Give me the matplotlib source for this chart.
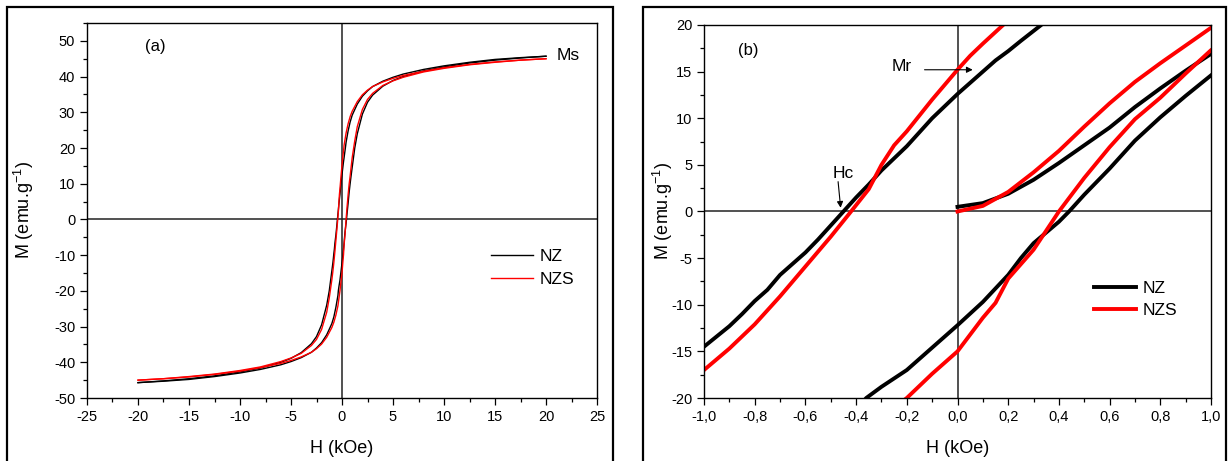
import matplotlib
matplotlib.use("Agg")
import matplotlib.pyplot as plt
from matplotlib.patches import Rectangle
from matplotlib.ticker import MultipleLocator, FuncFormatter

plt.rcParams['font.family'] = ['Liberation Sans', 'DejaVu Sans']
plt.rcParams['axes.unicode_minus'] = False
plt.rcParams['mathtext.fontset'] = 'custom'
plt.rcParams['mathtext.rm'] = 'Liberation Sans'
plt.rcParams['mathtext.it'] = 'Liberation Sans:italic'
plt.rcParams['mathtext.default'] = 'regular'

# ---------------- data ----------------
# NZ descending branch (H from +20 to -20)
nz_desc_H = [20, 17.5, 15, 12.5, 10, 8, 6, 5, 4, 3, 2.5, 2, 1.5, 1.0, 0.8, 0.6, 0.4,
             0.33, 0.25, 0.2, 0.15, 0.1, 0.0, -0.1, -0.2, -0.3, -0.35, -0.4, -0.45, -0.5,
             -0.55, -0.6, -0.7, -0.75, -0.8, -0.85, -0.9, -1.0, -1.25, -1.5, -2, -2.5,
             -3, -4, -5, -6, -8, -10, -12.5, -15, -17.5, -20]
nz_desc_M = [45.7, 45.3, 44.8, 44.0, 43.0, 42.0, 40.7, 39.8, 38.7, 37.2, 36.0, 34.5, 32.3,
             29.2, 27.3, 24.8, 21.6, 20.0, 18.3, 17.2, 16.2, 15.0, 12.6, 10.0, 7.0, 4.4,
             2.9, 1.5, 0.0, -1.5, -3.0, -4.4, -6.8, -8.4, -9.6, -11.0, -12.3, -14.5,
             -20.0, -24.0, -29.5, -32.8, -34.8, -37.3, -38.9, -40.0, -41.6, -42.7,
             -43.8, -44.6, -45.2, -45.7]
# NZ ascending branch (H from -20 to +20)
nz_asc_H = [-20, -17.5, -15, -12.5, -10, -8, -6, -5, -4, -3, -2.5, -2, -1.5, -1.0, -0.8,
            -0.6, -0.4, -0.36, -0.3, -0.2, -0.1, 0.0, 0.1, 0.2, 0.25, 0.3, 0.4, 0.44, 0.5,
            0.6, 0.65, 0.7, 0.8, 0.9, 1.0, 1.25, 1.5, 2, 2.5, 3, 4, 5, 6, 8, 10, 12.5,
            15, 17.5, 20]
nz_asc_M = [-45.7, -45.3, -44.8, -44.0, -43.0, -42.0, -40.7, -39.8, -38.7, -37.2, -36.0,
            -34.5, -32.3, -29.2, -27.3, -24.6, -21.3, -20.0, -18.8, -17.0, -14.6, -12.2,
            -9.7, -6.8, -5.0, -3.4, -1.1, 0.0, 1.8, 4.6, 6.1, 7.6, 10.1, 12.4, 14.6,
            20.0, 24.0, 29.5, 32.8, 34.8, 37.3, 38.9, 40.0, 41.6, 42.7, 43.8, 44.6,
            45.2, 45.7]
# NZ initial magnetisation curve
nz_init_H = [0.0, 0.1, 0.2, 0.3, 0.4, 0.5, 0.6, 0.7, 0.8, 0.9, 1.0]
nz_init_M = [0.5, 0.9, 1.9, 3.4, 5.2, 7.1, 9.0, 11.2, 13.2, 15.1, 16.9]

# NZS descending branch
nzs_desc_H = [20, 17.5, 15, 12.5, 10, 8, 6, 5, 4, 3, 2.5, 2, 1.5, 1.0, 0.8, 0.6, 0.4,
              0.2, 0.18, 0.1, 0.05, 0.0, -0.1, -0.2, -0.25, -0.3, -0.35, -0.42, -0.5,
              -0.6, -0.7, -0.8, -0.85, -0.9, -1.0, -1.25, -1.5, -2, -2.5, -3, -4, -5,
              -6, -8, -10, -12.5, -15, -17.5, -20]
nzs_desc_M = [45.0, 44.6, 44.1, 43.4, 42.5, 41.5, 40.3, 39.5, 38.5, 37.2, 36.2, 34.9,
              33.0, 30.3, 28.8, 26.8, 24.2, 20.7, 20.0, 18.0, 16.7, 15.2, 12.0, 8.6,
              7.1, 5.0, 2.4, 0.0, -2.7, -5.9, -9.1, -12.1, -13.4, -14.7, -17.0, -22.0,
              -26.0, -30.8, -33.6, -35.3, -37.5, -38.8, -39.8, -41.3, -42.3, -43.3,
              -44.0, -44.6, -45.0]
# NZS ascending branch
nzs_asc_H = [-20, -17.5, -15, -12.5, -10, -8, -6, -5, -4, -3, -2.5, -2, -1.5, -1.0, -0.8,
             -0.6, -0.4, -0.2, -0.1, 0.0, 0.1, 0.15, 0.2, 0.3, 0.4, 0.5, 0.6, 0.65, 0.7,
             0.8, 0.9, 1.0, 1.25, 1.5, 2, 2.5, 3, 4, 5, 6, 8, 10, 12.5, 15, 17.5, 20]
nzs_asc_M = [-45.0, -44.6, -44.1, -43.4, -42.5, -41.5, -40.3, -39.5, -38.5, -37.2, -36.2,
             -34.9, -33.0, -30.3, -28.8, -26.8, -24.2, -20.0, -17.4, -15.0, -11.4, -9.8,
             -7.2, -4.1, 0.0, 3.6, 6.9, 8.4, 9.9, 12.2, 14.8, 17.3, 22.0, 26.0, 30.8,
             33.6, 35.3, 37.5, 38.8, 39.8, 41.3, 42.3, 43.3, 44.0, 44.6, 45.0]
# NZS initial magnetisation curve
nzs_init_H = [0.0, 0.1, 0.2, 0.3, 0.4, 0.5, 0.6, 0.7, 0.8, 0.9, 1.0]
nzs_init_M = [0.0, 0.6, 2.1, 4.2, 6.5, 9.1, 11.6, 13.9, 15.9, 17.8, 19.7]

series_names = ['NZ', 'NZS']
series_colors = ['black', '#ff0000']

# ---------------- figure ----------------
fig = plt.figure(figsize=(12.29, 4.61), dpi=100)

# panel frames
fig.add_artist(Rectangle((7 / 1229, -0.05), (613 - 7) / 1229, 1.05 - 7 / 461,
                         transform=fig.transFigure, fill=False, lw=1.6,
                         edgecolor='black', clip_on=False))
fig.add_artist(Rectangle((643 / 1229, -0.05), (1226 - 643) / 1229, 1.05 - 7 / 461,
                         transform=fig.transFigure, fill=False, lw=1.6,
                         edgecolor='black', clip_on=False))

axA = fig.add_axes([87 / 1229, 1 - 398 / 461, (597 - 87) / 1229, (398 - 23) / 461])
axB = fig.add_axes([704 / 1229, 1 - 398 / 461, (1211 - 704) / 1229, (398 - 25) / 461])


def style(ax):
    for s in ax.spines.values():
        s.set_linewidth(1.0)
    ax.tick_params(which='both', direction='out', top=False, right=False,
                   labelsize=10.5, width=0.9)
    ax.tick_params(which='major', length=5)
    ax.tick_params(which='minor', length=3)
    ax.axhline(0, color='#222222', lw=1.1, zorder=1)
    ax.axvline(0, color='#222222', lw=1.1, zorder=1)


ylabel_text = 'M (emu.g$^{-1}$)'

# ---- panel (a)
style(axA)
axA.plot(nz_desc_H, nz_desc_M, color=series_colors[0], lw=1.0, label=series_names[0])
axA.plot(nz_asc_H, nz_asc_M, color=series_colors[0], lw=1.0)
axA.plot(nzs_desc_H, nzs_desc_M, color=series_colors[1], lw=1.0, label=series_names[1])
axA.plot(nzs_asc_H, nzs_asc_M, color=series_colors[1], lw=1.0)
axA.set_xlim(-25, 25)
axA.set_ylim(-50, 55)
axA.xaxis.set_major_locator(MultipleLocator(5))
axA.xaxis.set_minor_locator(MultipleLocator(2.5))
axA.yaxis.set_major_locator(MultipleLocator(10))
axA.yaxis.set_minor_locator(MultipleLocator(5))
axA.set_xlabel('H (kOe)', fontsize=13, labelpad=12)
axA.set_ylabel(ylabel_text, fontsize=13)
axA.yaxis.set_label_coords(-0.100, 0.5)
axA.text(-18.3, 48.3, '(a)', fontsize=12, ha='center', va='center')
axA.text(21.0, 45.9, 'Ms', fontsize=12.5, ha='left', va='center')
axA.legend(loc='upper left', bbox_to_anchor=(0.792, 0.397), frameon=False,
           fontsize=12.5, handlelength=2.4, handletextpad=0.4, borderpad=0,
           borderaxespad=0, labelspacing=0.42)

# ---- panel (b)
style(axB)
axB.plot(nz_desc_H, nz_desc_M, color=series_colors[0], lw=2.8, label=series_names[0])
axB.plot(nz_asc_H, nz_asc_M, color=series_colors[0], lw=2.8)
axB.plot(nz_init_H, nz_init_M, color=series_colors[0], lw=2.8)
axB.plot(nzs_desc_H, nzs_desc_M, color=series_colors[1], lw=2.8, label=series_names[1])
axB.plot(nzs_asc_H, nzs_asc_M, color=series_colors[1], lw=2.8)
axB.plot(nzs_init_H, nzs_init_M, color=series_colors[1], lw=2.8)
axB.set_xlim(-1.0, 1.0)
axB.set_ylim(-20, 20)
axB.xaxis.set_major_locator(MultipleLocator(0.2))
axB.xaxis.set_minor_locator(MultipleLocator(0.1))
axB.yaxis.set_major_locator(MultipleLocator(5))
axB.yaxis.set_minor_locator(MultipleLocator(2.5))
axB.xaxis.set_major_formatter(FuncFormatter(
    lambda v, p: f'{v:.1f}'.replace('.', ',').replace('-0,0', '0,0')))
axB.set_xlabel('H (kOe)', fontsize=13, labelpad=12)
axB.set_ylabel(ylabel_text, fontsize=13)
axB.yaxis.set_label_coords(-0.057, 0.5)
axB.text(-0.825, 17.3, '(b)', fontsize=12, ha='center', va='center')
axB.text(-0.22, 15.6, 'Mr', fontsize=12.5, ha='center', va='center')
axB.annotate('', xy=(0.06, 15.2), xytext=(-0.13, 15.2),
             arrowprops=dict(arrowstyle='-|>', color='black', lw=0.8,
                             mutation_scale=9, shrinkA=0, shrinkB=0))
axB.text(-0.449, 4.1, 'Hc', fontsize=12.5, ha='center', va='center')
axB.annotate('', xy=(-0.461, 0.4), xytext=(-0.471, 3.2),
             arrowprops=dict(arrowstyle='-|>', color='black', lw=0.8,
                             mutation_scale=9, shrinkA=0, shrinkB=0))
axB.legend(loc='upper left', bbox_to_anchor=(0.769, 0.313), frameon=False,
           fontsize=12.5, handlelength=2.4, handletextpad=0.4, borderpad=0,
           borderaxespad=0, labelspacing=0.35)

fig.savefig('out.png', dpi=100)
